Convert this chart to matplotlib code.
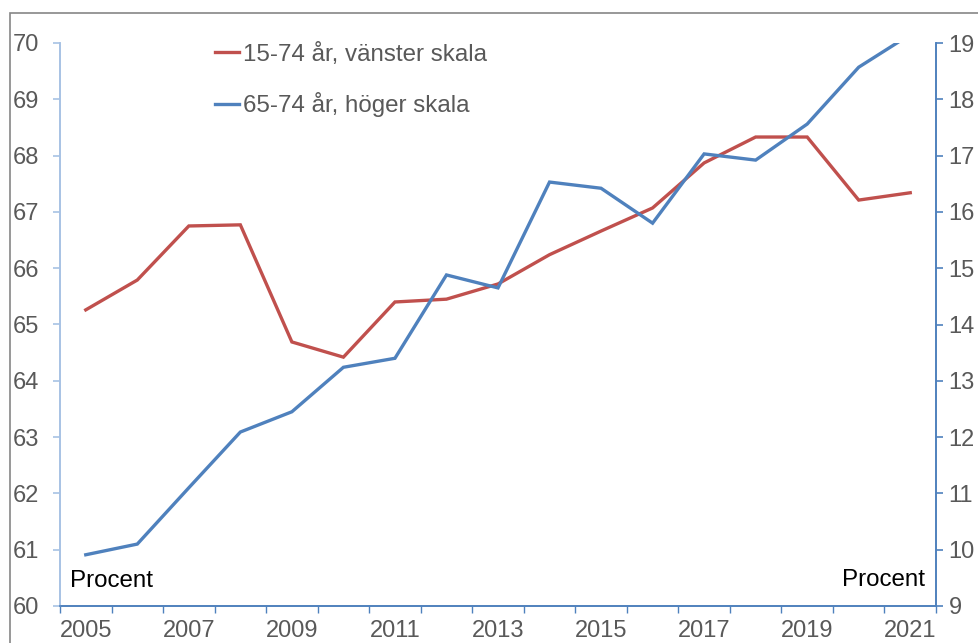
import numpy as np
import matplotlib.pyplot as plt
from matplotlib.patches import Rectangle

plt.rcParams['font.family'] = ['Liberation Sans', 'DejaVu Sans']

# data
years = list(range(2005, 2022))
sysselsatta_15_74 = [65.26, 65.79, 66.75, 66.77, 64.69, 64.42, 65.40, 65.45, 65.72,
                     66.24, 66.66, 67.07, 67.87, 68.33, 68.33, 67.21, 67.34]
sysselsatta_65_74 = [9.91, 10.10, 11.10, 12.09, 12.45, 13.24, 13.40, 14.88, 14.65,
                     16.53, 16.42, 15.80, 17.03, 16.92, 17.56, 18.57, 19.15]
labels = ["15-74 år, vänster skala", "65-74 år, höger skala"]

red = "#C0504D"
blue = "#4F81BD"
txt = "#595959"

fig = plt.figure(figsize=(9.79, 6.43), dpi=100)
ax = fig.add_axes([60/979, 1 - 606/643, 876/979, 563/643])
ax2 = ax.twinx()

x = np.arange(len(years))
l1, = ax.plot(x, sysselsatta_15_74, color=red, lw=2.4, solid_joinstyle='miter')
l2, = ax2.plot(x, sysselsatta_65_74, color=blue, lw=2.4, solid_joinstyle='miter')

ax.set_xlim(-0.5, len(years) - 0.5)
ax.set_ylim(60, 70)
ax2.set_ylim(9, 19)
ax.set_yticks(range(60, 71))
ax2.set_yticks(range(9, 20))

ax.set_xticks(np.arange(-0.5, len(years), 1.0))
ax.set_xticklabels([])
ax.set_xticks(x[::2], minor=True)
ax.set_xticklabels([str(y) for y in years[::2]], minor=True)
ax.tick_params(axis='x', which='major', direction='out', length=5, color=blue, width=1)
ax.tick_params(axis='x', which='minor', length=0, pad=10, labelsize=17, labelcolor=txt)
ax.tick_params(axis='y', direction='out', length=5, color='#A7C2E4', width=1.2,
               pad=10, labelsize=17, labelcolor=txt)
ax2.tick_params(axis='y', direction='out', length=5, color=blue, width=1.2,
                pad=4, labelsize=17, labelcolor=txt)

for a in (ax, ax2):
    a.spines['top'].set_visible(False)
    a.spines['left'].set_color('#A7C2E4')
    a.spines['right'].set_color(blue)
    a.spines['bottom'].set_color(blue)
    a.spines['left'].set_linewidth(1.2)
    a.spines['right'].set_linewidth(1.2)
    a.spines['bottom'].set_linewidth(1.2)
ax.patch.set_visible(False)

ax.legend([l1, l2], labels, loc='upper left', bbox_to_anchor=(0.166, 1.018),
          frameon=False, fontsize=17.4, labelcolor=txt, handlelength=1.0,
          handletextpad=0.15, labelspacing=1.1, borderaxespad=0)

ax.text(0.011, 0.024, "Procent", transform=ax.transAxes, fontsize=17.4,
        color='black', ha='left', va='bottom')
ax.text(0.988, 0.027, "Procent", transform=ax.transAxes, fontsize=17.4,
        color='black', ha='right', va='bottom')

# outer chart frame (cut off at right and bottom)
fig.patches.append(Rectangle((10/979, -0.1), 1.2, 1 - 13/643 + 0.1,
                             transform=fig.transFigure, fill=False,
                             edgecolor='#868686', lw=1.2))

fig.savefig("out.png", dpi=100)
